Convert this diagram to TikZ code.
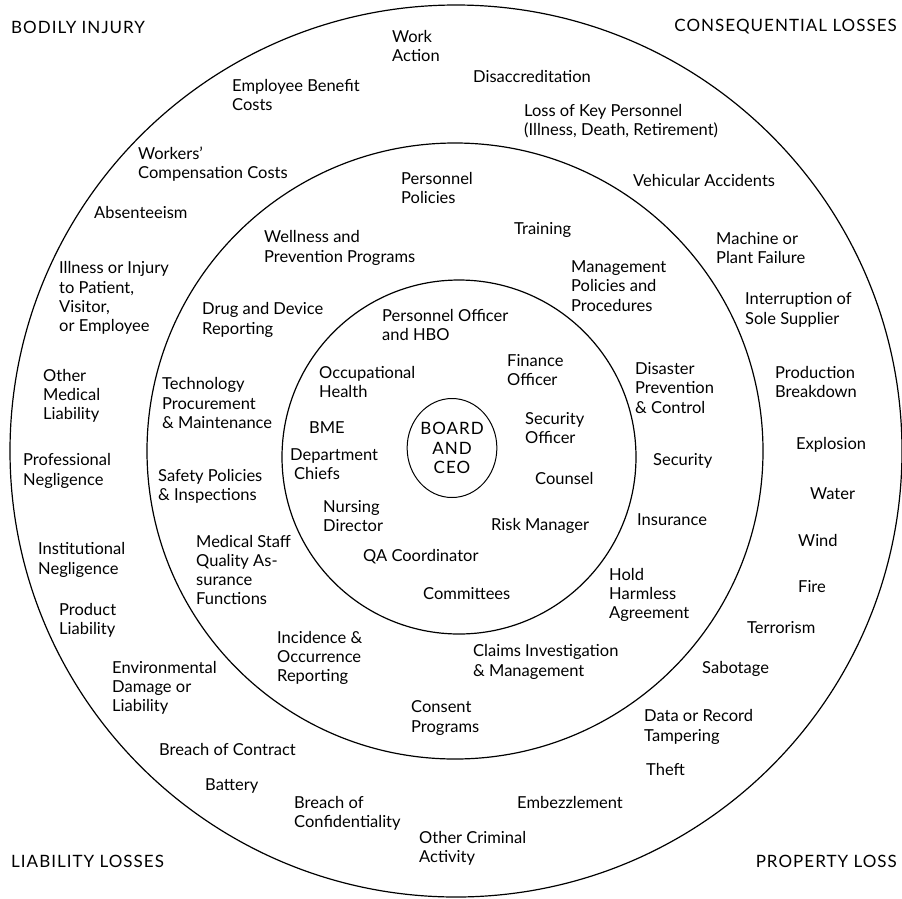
\documentclass[tikz,border=0pt]{standalone}
\usepackage{fontspec}
\setmainfont{Lato}
\usetikzlibrary{shapes.geometric}
\begin{document}
\begin{tikzpicture}[x=1pt,y=-1pt,line cap=round,line join=round,
  lbl/.style={anchor=west,align=left,inner sep=0pt,font=\fontsize{16.5}{19.3}\selectfont},
  lblr/.style={lbl,anchor=east},
  caps/.style={font=\fontsize{17}{19.3}\selectfont\addfontfeature{LetterSpace=6}},
  ring/.style={line width=1.2pt}]
\useasboundingbox (0,0) rectangle (902,898);
% rings
\draw[ring] (456,451) circle [radius=446];
\draw[ring] (455,451) circle [radius=308];
\draw[ring] (459,457) circle [radius=177];
\node[lbl,caps,draw,ellipse,anchor=center,align=center,line width=1pt,
  minimum width=89pt,minimum height=99pt] (board) at (452,448) {BOARD\\AND\\CEO};
% corners
\node[lbl,caps] (bodily) at (11,27) {BODILY INJURY};
\node[lblr,caps] (conseq) at (897,27) {CONSEQUENTIAL LOSSES};
\node[lbl,caps] (liab) at (11,861) {LIABILITY LOSSES};
\node[lblr,caps] (prop) at (897,861) {PROPERTY LOSS};
% outer ring
\node[lbl] (work) at (392,46) {Work\\Action};
\node[lbl] (disacc) at (473,76) {Disaccreditation};
\node[lbl] (keypers) at (524,121) {Loss of Key Personnel\\(Illness, Death, Retirement)};
\node[lbl] (benefit) at (232,95) {Employee Benefit\\Costs};
\node[lbl] (workcomp) at (138,164) {Workers’\\Compensation Costs};
\node[lbl] (absent) at (94,212) {Absenteeism};
\node[lbl] (illness) at (59,298) {Illness or Injury\\to Patient,\\Visitor,\\or Employee};
\node[lbl] (vehic) at (633,180) {Vehicular Accidents};
\node[lbl] (machine) at (716,248) {Machine or\\Plant Failure};
\node[lbl] (supplier) at (745,310) {Interruption of\\Sole Supplier};
\node[lbl] (othmed) at (43,396) {Other\\Medical\\Liability};
\node[lbl] (profneg) at (23,471) {Professional\\Negligence};
\node[lbl] (instneg) at (38,560) {Institutional\\Negligence};
\node[lbl] (product) at (59,620) {Product\\Liability};
\node[lbl] (environ) at (112,688) {Environmental\\Damage or\\Liability};
\node[lbl] (contract) at (159,749) {Breach of Contract};
\node[lbl] (battery) at (205,786) {Battery};
\node[lbl] (confid) at (294,813) {Breach of\\Confidentiality};
\node[lbl] (criminal) at (419,848) {Other Criminal\\Activity};
\node[lbl] (embezz) at (517,802) {Embezzlement};
\node[lbl] (theft) at (646,769) {Theft};
\node[lbl] (tamper) at (644,727) {Data or Record\\Tampering};
\node[lbl] (sabot) at (702,669) {Sabotage};
\node[lbl] (terror) at (747,628) {Terrorism};
\node[lbl] (fire) at (798,587) {Fire};
\node[lbl] (wind) at (798,540) {Wind};
\node[lbl] (water) at (810,494) {Water};
\node[lbl] (explos) at (796,445) {Explosion};
\node[lbl] (prodbr) at (775,382) {Production\\Breakdown};
% middle ring
\node[lbl] (perspol) at (401,188) {Personnel\\Policies};
\node[lbl] (training) at (514,230) {Training};
\node[lbl] (wellness) at (264,248) {Wellness and\\Prevention Programs};
\node[lbl] (mgmtpol) at (571,286) {Management\\Policies and\\Procedures};
\node[lbl] (drug) at (202,320) {Drug and Device\\Reporting};
\node[lbl] (techproc) at (162,403) {Technology\\Procurement\\\& Maintenance};
\node[lbl] (safety) at (158,486) {Safety Policies\\\& Inspections};
\node[lbl] (medstaff) at (196,570) {Medical Staff\\Quality As-\\surance\\Functions};
\node[lbl] (incid) at (277,658) {Incidence \&\\Occurrence\\Reporting};
\node[lbl] (consent) at (411,718) {Consent\\Programs};
\node[lbl] (claims) at (473,662) {Claims Investigation\\\& Management};
\node[lbl] (hold) at (609,595) {Hold\\Harmless\\Agreement};
\node[lbl] (insur) at (637,520) {Insurance};
\node[lbl] (security) at (653,461) {Security};
\node[lbl] (disaster) at (635,388) {Disaster\\Prevention\\\& Control};
% inner ring
\node[lbl] (persoff) at (382,325) {Personnel Officer\\and HBO};
\node[lbl] (occup) at (319,382) {Occupational\\Health};
\node[lbl] (bme) at (309,428) {BME};
\node[lbl] (chiefs) at (290,464) {Department\\\hspace{4pt}Chiefs};
\node[lbl] (nursing) at (323,516) {Nursing\\Director};
\node[lbl] (qacoord) at (363,557) {QA Coordinator};
\node[lbl] (commit) at (423,594) {Committees};
\node[lbl] (risk) at (491,526) {Risk Manager};
\node[lbl] (counsel) at (535,478) {Counsel};
\node[lbl] (secoff) at (525,428) {Security\\Officer};
\node[lbl] (finance) at (507,370) {Finance\\Officer};
\end{tikzpicture}
\end{document}
